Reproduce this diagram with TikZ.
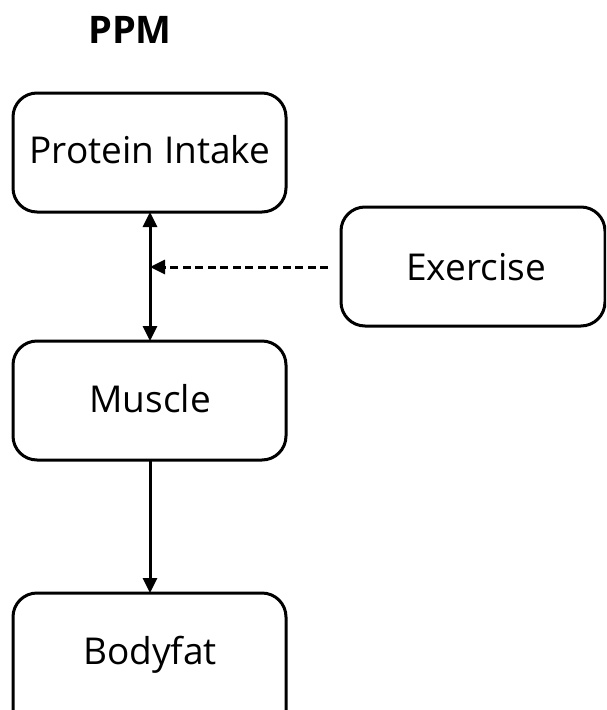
\documentclass[tikz,border=0pt]{standalone}
\usepackage{fontspec}
\setmainfont{Open Sans}
\usetikzlibrary{arrows.meta}
\begin{document}
\begin{tikzpicture}[x=1pt,y=-1pt,
  box/.style={draw, line width=3pt, rounded corners=24pt},
  lbl/.style={font=\fontsize{37}{44}\selectfont, inner sep=0pt},
  arr/.style={line width=3pt, -{Triangle[length=15pt,width=14pt]}}
]
\useasboundingbox (0,0) rectangle (606,710);
\begin{scope}
\clip (0,0) rectangle (606,710);
\draw[box] (13,93) rectangle (286,212);
\draw[box] (341,207) rectangle (605,326);
\draw[box] (13,341) rectangle (286,460);
\draw[box] (13,593) rectangle (286,740);
\end{scope}
\node[lbl] (protein) at (150,150) {Protein Intake};
\node[lbl] (exercise) at (476,267) {Exercise};
\node[lbl] (muscle) at (150,399) {Muscle};
\node[lbl] (bodyfat) at (150,655) {Bodyfat};
\node[font=\bfseries\fontsize{38}{44}\selectfont, inner sep=0pt] (ppm) at (130,30) {PPM};
\coordinate (pt) at (150,212);
\coordinate (mt) at (150,341);
\coordinate (mb) at (150,460);
\coordinate (bt) at (150,593);
\coordinate (es) at (328,267);
\coordinate (ee) at (150,267);
\draw[line width=3pt, {Triangle[length=15pt,width=14pt]}-{Triangle[length=15pt,width=14pt]}] (pt) -- (mt);
\draw[arr] (mb) -- (bt);
\draw[arr, dash pattern=on 8pt off 4.5pt] (es) -- (ee);
\end{tikzpicture}
\end{document}
